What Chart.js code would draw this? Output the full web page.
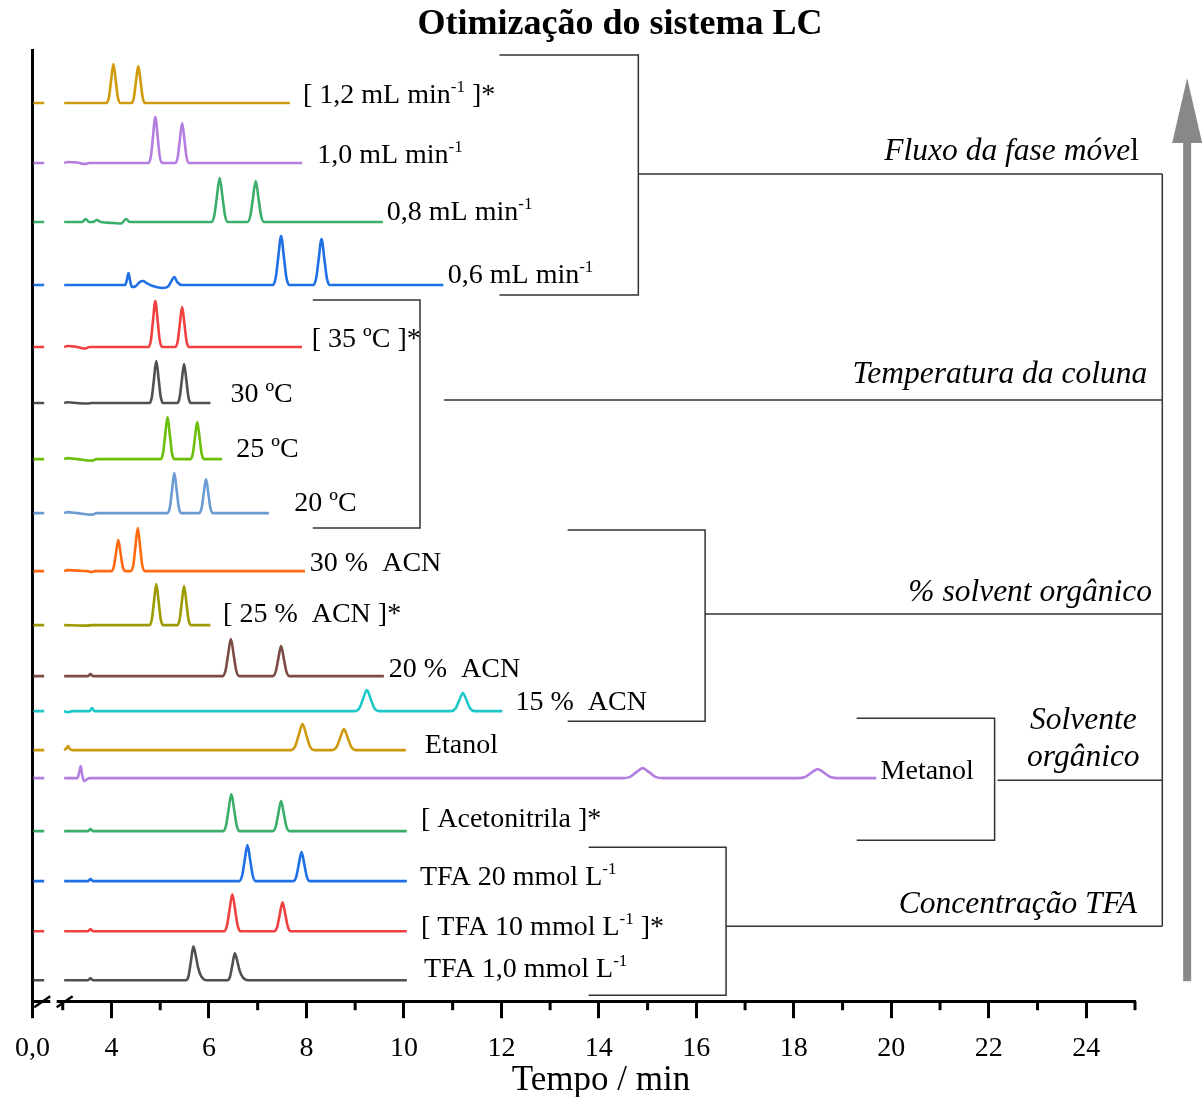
<!DOCTYPE html>
<html><head><meta charset="utf-8">
<script src="https://cdn.jsdelivr.net/npm/chart.js@4.4.1/dist/chart.umd.min.js"></script>
<style>html,body{margin:0;padding:0;background:#fff;}</style>
</head><body>
<canvas id="c" width="1203" height="1097"></canvas>
<script>
// ---------- data ----------
const chartTitle = 'Otimização do sistema LC';
const xAxisTitle = 'Tempo / min';
const seriesLabels = ['[ 1,2 mL min{-1} ]*','1,0 mL min{-1}','0,8 mL min{-1}','0,6 mL min{-1}',
  '[ 35 ºC ]*','30 ºC','25 ºC','20 ºC','30 %  ACN','[ 25 %  ACN ]*','20 %  ACN','15 %  ACN',
  'Etanol','Metanol','[ Acetonitrila ]*','TFA 20 mmol L{-1}','[ TFA 10 mmol L{-1} ]*','TFA 1,0 mmol L{-1}'];
const seriesColors = ['#D09A0C','#B47DE0','#3BAE6A','#1F6FE5','#F0403F','#505050','#6BBE0A','#6B9BD2',
  '#FF6A10','#9B9B00','#7D4B45','#1CC8C8','#CC9A0C','#B47DE0','#3BAE6A','#1F6FE5','#F0403F','#505050'];
const baselineOffsets = [898,838,779,716,654,598,542,488,430,376,325,290,251,223,170,120,70,21];
const labelX = [7.93,8.22,9.65,10.90,8.11,6.44,6.56,7.75,8.07,6.29,9.69,12.29,10.43,19.78,10.35,10.33,10.35,10.41];
const labelY = [898,838,781,718,654,599,544,490,430,379,324,291,248,222,174,116,66,24];

const leftStub = [[2.40,0],[2.62,0]];

const t1 = [[3.03,0],[3.90,0],[3.95,5.9],[3.99,21.5],[4.04,39],[4.09,21.5],[4.13,5.9],[4.18,0],[4.41,0],[4.46,5.6],[4.50,20.4],[4.55,37],[4.60,20.4],[4.64,5.6],[4.69,0],[7.66,0]];
const t2 = [[3.03,0],[3.10,1],[3.30,0.5],[3.45,-1],[3.55,0],[4.76,0],[4.81,6.9],[4.85,25.3],[4.90,46],[4.95,25.3],[4.99,6.9],[5.04,0],[5.31,0],[5.36,6],[5.40,22],[5.45,40],[5.50,22],[5.54,6],[5.59,0],[7.91,0]];
const t3 = [[3.03,0],[3.40,0],[3.47,3],[3.54,0],[3.62,0],[3.70,2],[3.78,0],[4.05,-1],[4.20,-1.5],[4.30,3],[4.38,0],[6.05,0],[6.11,6.6],[6.16,24.2],[6.22,44],[6.28,24.2],[6.33,6.6],[6.39,0],[6.79,0],[6.85,6.2],[6.90,22.6],[6.96,41],[7.02,22.6],[7.07,6.2],[7.13,0],[9.57,0]];
const t4 = [[3.03,0],[4.28,0],[4.32,6],[4.35,12],[4.38,5],[4.42,-2],[4.50,-1],[4.58,3],[4.65,4],[4.72,2],[4.85,-1],[5.05,-3],[5.17,-1],[5.23,4],[5.29,8],[5.35,3],[5.45,0],[7.31,0],[7.37,7.4],[7.42,27],[7.48,49],[7.54,27],[7.59,7.4],[7.65,0],[8.14,0],[8.20,6.9],[8.25,25.3],[8.31,46],[8.37,25.3],[8.42,6.9],[8.48,0],[10.81,0]];
const t5 = [[3.03,0],[3.10,1],[3.30,0],[3.45,-1.5],[3.55,0],[4.76,0],[4.81,6.9],[4.85,25.3],[4.90,46],[4.95,25.3],[4.99,6.9],[5.04,0],[5.31,0],[5.36,6],[5.40,22],[5.45,40],[5.50,22],[5.54,6],[5.59,0],[7.91,0]];
const t6 = [[3.03,0],[3.10,0.8],[3.30,0],[3.50,-0.5],[3.60,0],[4.78,0],[4.83,6.3],[4.87,23.1],[4.92,42],[4.97,23.1],[5.01,6.3],[5.06,0],[5.35,0],[5.40,5.9],[5.44,21.5],[5.49,39],[5.54,21.5],[5.58,5.9],[5.63,0],[6.03,0]];
const t7 = [[3.03,0],[3.10,1],[3.30,0],[3.60,-1.5],[3.70,0],[5.01,0],[5.06,6.3],[5.10,23.1],[5.15,42],[5.20,23.1],[5.24,6.3],[5.29,0],[5.62,0],[5.67,5.6],[5.71,20.4],[5.76,37],[5.81,20.4],[5.85,5.6],[5.90,0],[6.27,0]];
const t8 = [[3.03,0],[3.10,1],[3.30,0],[3.60,-1.5],[3.70,0],[5.15,0],[5.20,6],[5.24,22],[5.29,40],[5.34,22],[5.38,6],[5.43,0],[5.80,0],[5.85,5.1],[5.89,18.7],[5.94,34],[5.99,18.7],[6.03,5.1],[6.08,0],[7.23,0]];
const t9 = [[3.03,0],[3.10,1],[3.30,0.5],[3.50,0],[3.60,-1],[3.65,0],[4.00,0],[4.05,4.7],[4.09,17],[4.14,31],[4.19,17],[4.23,4.7],[4.28,0],[4.40,0],[4.45,6.5],[4.49,23.7],[4.54,43],[4.59,23.7],[4.63,6.5],[4.68,0],[7.97,0]];
const t10 = [[3.03,0],[3.50,-0.5],[3.60,0],[4.78,0],[4.83,6.2],[4.87,22.6],[4.92,41],[4.97,22.6],[5.01,6.2],[5.06,0],[5.35,0],[5.40,5.9],[5.44,21.5],[5.49,39],[5.54,21.5],[5.58,5.9],[5.63,0],[6.03,0]];
const t11 = [[3.03,0],[3.52,0],[3.57,2],[3.62,0],[6.28,0],[6.34,5.6],[6.39,20.4],[6.45,37],[6.51,20.4],[6.56,5.6],[6.62,0],[7.31,0],[7.37,4.5],[7.42,16.5],[7.48,30],[7.54,16.5],[7.59,4.5],[7.65,0],[9.59,0]];
const t12 = [[3.03,0],[3.10,-1],[3.20,0],[3.55,0],[3.60,3],[3.65,0],[9.00,0],[9.09,3.2],[9.16,12],[9.24,21],[9.32,12],[9.39,3.2],[9.48,0],[10.97,0],[11.06,2.7],[11.13,10.3],[11.21,18],[11.29,10.3],[11.36,2.7],[11.45,0],[12.02,0]];
const t13 = [[3.03,0],[3.08,2],[3.11,4],[3.15,1],[3.20,0],[7.68,0],[7.77,3.9],[7.84,14.8],[7.92,26],[8.00,14.8],[8.07,3.9],[8.16,0],[8.53,0],[8.62,3.2],[8.69,12],[8.77,21],[8.85,12],[8.92,3.2],[9.01,0],[10.04,0]];
const t14 = [[3.03,0],[3.30,0],[3.34,6],[3.37,12],[3.40,3],[3.44,-3],[3.50,-1],[3.56,0],[14.48,0],[14.64,1.3],[14.77,6],[14.90,10],[15.03,6],[15.16,1.3],[15.32,0],[18.07,0],[18.23,1.2],[18.36,5.4],[18.49,9],[18.62,5.4],[18.75,1.2],[18.91,0],[19.69,0]];
const t15 = [[3.03,0],[3.52,0],[3.57,2],[3.62,0],[6.29,0],[6.35,5.6],[6.40,20.4],[6.46,37],[6.52,20.4],[6.57,5.6],[6.63,0],[7.31,0],[7.37,4.5],[7.42,16.5],[7.48,30],[7.54,16.5],[7.59,4.5],[7.65,0],[10.06,0]];
const t16 = [[3.03,0],[3.52,0],[3.57,2],[3.62,0],[6.62,0],[6.68,5.4],[6.73,19.8],[6.79,36],[6.85,19.8],[6.90,5.4],[6.96,0],[7.73,0],[7.79,4.4],[7.84,16],[7.90,29],[7.96,16],[8.01,4.4],[8.07,0],[10.06,0]];
const t17 = [[3.03,0],[3.52,0],[3.57,2],[3.62,0],[6.31,0],[6.37,5.6],[6.42,20.4],[6.48,37],[6.54,20.4],[6.59,5.6],[6.65,0],[7.34,0],[7.40,4.4],[7.45,16],[7.51,29],[7.57,16],[7.62,4.4],[7.68,0],[10.06,0]];
const t18 = [[3.03,0],[3.52,0],[3.57,2],[3.62,0],[5.53,0],[5.58,4],[5.63,18.7],[5.68,34],[5.73,24.5],[5.78,12],[5.84,4],[5.94,0],[6.38,0],[6.43,3.2],[6.48,14.9],[6.53,27],[6.58,19.4],[6.63,9.5],[6.69,3.2],[6.80,0],[10.06,0]];
const traces = [t1,t2,t3,t4,t5,t6,t7,t8,t9,t10,t11,t12,t13,t14,t15,t16,t17,t18];

// x axis ticks
const tickValues = [2.38,3,4,5,6,7,8,9,10,11,12,13,14,15,16,17,18,19,20,21,22,23,24,25];
const tickLabels = ['0,0','','4','','6','','8','','10','','12','','14','','16','','18','','20','','22','','24',''];
const axisBreaks = [2.58, 3.04];

// group brackets: [xLeft, xRight, yTop, yBottom, xConnectorStart, yConnector]
const groupBrackets = [
  [11.96,14.81,946,706,14.81,827],
  [8.13,10.33,701,473,10.82,601],
  [13.36,16.18,471,280,16.18,387],
  [19.29,22.12,283,161,22.18,221],
  [13.79,16.61,154,6,16.61,75]
];
const spineX = 25.56, spineTop = 827, spineBottom = 75;
const groupTitles = [
  {text:'Fluxo da fase móve', tail:'l', x:25.08, y:841, align:'right'},
  {text:'Temperatura da coluna', x:25.25, y:618, align:'right'},
  {text:'% solvent orgânico', x:25.35, y:400, align:'right'},
  {text:'Solvente', x:23.94, y:272, align:'center'},
  {text:'orgânico', x:23.94, y:235, align:'center'},
  {text:'Concentração TFA', x:25.04, y:88, align:'right'}
];
const arrowX = 26.07, arrowFrom = 20, arrowHeadBase = 858, arrowTip = 923;

// ---------- chart ----------
const SERIF = '"Liberation Serif","Times New Roman",Times,serif';
Chart.defaults.font.family = SERIF;

const datasets = traces.map((tr, i) => {
  const pts = [...leftStub, null, ...tr];
  return {
    label: seriesLabels[i],
    data: pts.map(p => p ? {x: p[0], y: baselineOffsets[i] + p[1]} : {x: 2.8, y: null}),
    borderColor: seriesColors[i],
    borderWidth: 2.6,
    pointRadius: 0,
    fill: false,
    spanGaps: false,
    cubicInterpolationMode: 'monotone'
  };
});

function drawRich(ctx, text, x, y, size, align, style) {
  const items = text.split(/(\{[^}]*\})/).filter(s => s.length).map(p =>
    p[0] === '{' ? {t: p.slice(1, -1), sup: true} : {t: p, sup: false});
  let total = 0;
  items.forEach(it => {
    ctx.font = (style || '') + ' ' + (it.sup ? Math.round(size * 0.62) : size) + 'px ' + SERIF;
    it.w = ctx.measureText(it.t).width; total += it.w;
  });
  let cx = align === 'right' ? x - total : (align === 'center' ? x - total / 2 : x);
  ctx.textAlign = 'left'; ctx.textBaseline = 'alphabetic';
  items.forEach(it => {
    ctx.font = (style || '') + ' ' + (it.sup ? Math.round(size * 0.62) : size) + 'px ' + SERIF;
    ctx.fillText(it.t, cx, it.sup ? y - size * 0.4 : y);
    cx += it.w;
  });
  return total;
}

const annotations = {
  id: 'annotations',
  afterDraw(chart) {
    const ctx = chart.ctx, xs = chart.scales.x, ys = chart.scales.y;
    const X = v => xs.getPixelForValue(v), Y = v => ys.getPixelForValue(v);
    const bottom = chart.chartArea.bottom;
    ctx.save();
    // titles
    ctx.fillStyle = '#000'; ctx.textAlign = 'center'; ctx.textBaseline = 'alphabetic';
    ctx.font = 'bold 36px ' + SERIF;
    ctx.fillText(chartTitle, 620, 34);
    ctx.font = '35px ' + SERIF;
    ctx.fillText(xAxisTitle, 601, 1090);
    // minor ticks
    ctx.strokeStyle = '#000'; ctx.lineWidth = 3; ctx.lineCap = 'butt';
    tickValues.forEach((v, i) => {
      if (tickLabels[i] === '') {
        ctx.beginPath(); ctx.moveTo(X(v), bottom); ctx.lineTo(X(v), bottom + 9); ctx.stroke();
      }
    });
    // axis break
    ctx.fillStyle = '#fff';
    ctx.fillRect(X(axisBreaks[0]) + 8, bottom - 3, X(axisBreaks[1]) - X(axisBreaks[0]) - 16, 6);
    ctx.lineWidth = 2.5;
    axisBreaks.forEach(v => {
      const cx = X(v);
      ctx.beginPath(); ctx.moveTo(cx - 8, bottom + 6); ctx.lineTo(cx + 8, bottom - 5); ctx.stroke();
    });
    // trace labels
    ctx.fillStyle = '#000';
    seriesLabels.forEach((s, i) => drawRich(ctx, s, X(labelX[i]), Y(labelY[i]), 28, 'left'));
    // brackets
    ctx.strokeStyle = '#333'; ctx.lineWidth = 1.5;
    groupBrackets.forEach(b => {
      ctx.beginPath();
      ctx.moveTo(X(b[0]), Y(b[2])); ctx.lineTo(X(b[1]), Y(b[2]));
      ctx.lineTo(X(b[1]), Y(b[3])); ctx.lineTo(X(b[0]), Y(b[3]));
      ctx.moveTo(X(b[4]), Y(b[5])); ctx.lineTo(X(spineX), Y(b[5]));
      ctx.stroke();
    });
    ctx.beginPath(); ctx.moveTo(X(spineX), Y(spineTop)); ctx.lineTo(X(spineX), Y(spineBottom)); ctx.stroke();
    // group titles
    ctx.fillStyle = '#000';
    groupTitles.forEach(g => {
      let x = X(g.x);
      if (g.tail) {
        ctx.font = '31.5px ' + SERIF; ctx.textAlign = 'right'; ctx.textBaseline = 'alphabetic';
        ctx.fillText(g.tail, x, Y(g.y));
        x -= ctx.measureText(g.tail).width;
      }
      drawRich(ctx, g.text, x, Y(g.y), 31.5, g.align, 'italic');
    });
    // arrow
    ctx.fillStyle = '#888888';
    const ax = X(arrowX);
    ctx.fillRect(ax - 4, Y(arrowHeadBase), 8, Y(arrowFrom) - Y(arrowHeadBase));
    ctx.beginPath();
    ctx.moveTo(ax, Y(arrowTip)); ctx.lineTo(ax + 15, Y(arrowHeadBase)); ctx.lineTo(ax - 15, Y(arrowHeadBase));
    ctx.closePath(); ctx.fill();
    ctx.restore();
  }
};

new Chart(document.getElementById('c'), {
  type: 'line',
  data: {datasets},
  plugins: [annotations],
  options: {
    responsive: false, animation: false,
    layout: {padding: {left: 31, right: 68, top: 50, bottom: 18}},
    plugins: {legend: {display: false}, tooltip: {enabled: false}, title: {display: false}},
    scales: {
      x: {
        type: 'linear', min: 2.38, max: 25,
        afterBuildTicks: s => { s.ticks = tickValues.map(v => ({value: v})); },
        ticks: {autoSkip: false, maxRotation: 0, padding: 15, color: '#000',
          font: {family: SERIF, size: 28, lineHeight: 1.1},
          callback: (v, i) => tickLabels[i]},
        grid: {display: true, drawOnChartArea: false, drawTicks: true, tickLength: 17, tickWidth: 3,
          tickColor: c => (tickLabels[c.index] === '' ? 'rgba(0,0,0,0)' : '#000')},
        border: {display: true, width: 3, color: '#000'},
        title: {display: false}
      },
      y: {
        type: 'linear', min: 0, max: 951,
        ticks: {display: false},
        grid: {display: false, drawTicks: false},
        border: {display: true, width: 3, color: '#000'}
      }
    }
  }
});
</script>
</body></html>
